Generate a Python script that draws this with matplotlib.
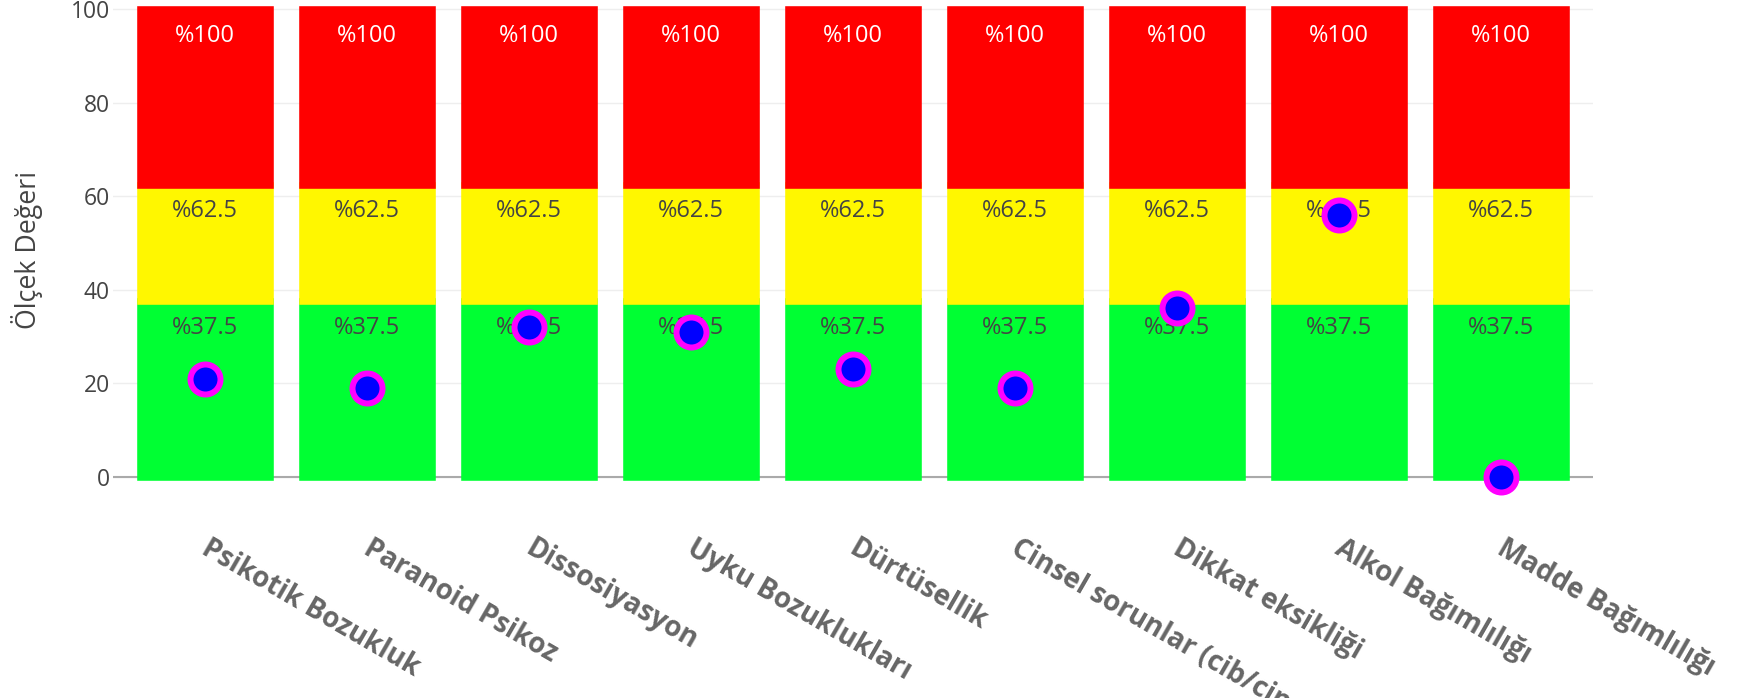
import matplotlib.pyplot as plt
from matplotlib.transforms import ScaledTranslation

# categories and values
categories = ['Psikotik Bozukluk', 'Paranoid Psikoz', 'Dissosiyasyon',
              'Uyku Bozuklukları', 'Dürtüsellik', 'Cinsel sorunlar (cib/cinsel işlev)',
              'Dikkat eksikliği', 'Alkol Bağımlılığı', 'Madde Bağımlılığı']
green_vals = [37.5, 37.5, 37.5, 37.5, 37.5, 37.5, 37.5, 37.5, 37.5]
yellow_vals = [25, 25, 25, 25, 25, 25, 25, 25, 25]
red_vals = [37.5, 37.5, 37.5, 37.5, 37.5, 37.5, 37.5, 37.5, 37.5]
green_text = ['%37.5'] * 9
yellow_text = ['%62.5'] * 9
red_text = ['%100'] * 9
scores = [21, 19, 32, 31, 23, 19, 36, 56, 0]

plt.rcParams['font.family'] = ['Open Sans', 'DejaVu Sans']

fig = plt.figure(figsize=(17.43, 6.98), dpi=100)
ax = fig.add_axes([0.0647, 0.2903, 0.8493, 0.7031])

x = list(range(len(categories)))
edge = 4.75  # bar outline in points, same colour as fill

layers = [
    (green_vals, '#00ff33', green_text, '#444444'),
    (yellow_vals, '#fff700', yellow_text, '#444444'),
    (red_vals, '#ff0000', red_text, '#ffffff'),
]
bottom = [0] * len(categories)
for vals, color, texts, tcolor in layers:
    ax.bar(x, vals, width=0.8, bottom=bottom, color=color, edgecolor=color,
           linewidth=edge, zorder=2)
    tops = [b + v for b, v in zip(bottom, vals)]
    for xi, top, t in zip(x, tops, texts):
        ax.annotate(t, (xi, top), xytext=(0, -19), textcoords='offset points',
                    ha='center', va='center', fontsize=17, color=tcolor, zorder=3)
    bottom = tops

ax.plot(x, scores, linestyle='none', marker='o', markersize=21.6,
        markerfacecolor='#0000ff', markeredgecolor='#ff00ff',
        markeredgewidth=4.3, zorder=4, clip_on=False)

ax.axhline(0, color='#aaaaaa', linewidth=1.5, zorder=1)
ax.set_xlim(-0.571, 8.567)
ax.set_ylim(-4, 101)
ax.set_yticks([0, 20, 40, 60, 80, 100])
ax.yaxis.grid(True, color='#eeeeee', linewidth=1)
ax.set_axisbelow(True)
for s in ax.spines.values():
    s.set_visible(False)

ax.tick_params(axis='y', length=0, pad=2, labelsize=16.5, labelcolor='#444444')
ax.tick_params(axis='x', length=0, pad=27.5)
ax.set_xticks(x)
ax.set_xticklabels(categories, rotation=-30, ha='left', rotation_mode='anchor',
                   fontsize=20, fontweight='bold', color='#666666')
# nudge the angled labels a little to the right
shift = ScaledTranslation(4 / 72, 0, fig.dpi_scale_trans)
for lab in ax.get_xticklabels():
    lab.set_transform(lab.get_transform() + shift)
ax.set_ylabel('Ölçek Değeri', fontsize=19.3, color='#444444', labelpad=20)

fig.savefig('out.png', dpi=100)
